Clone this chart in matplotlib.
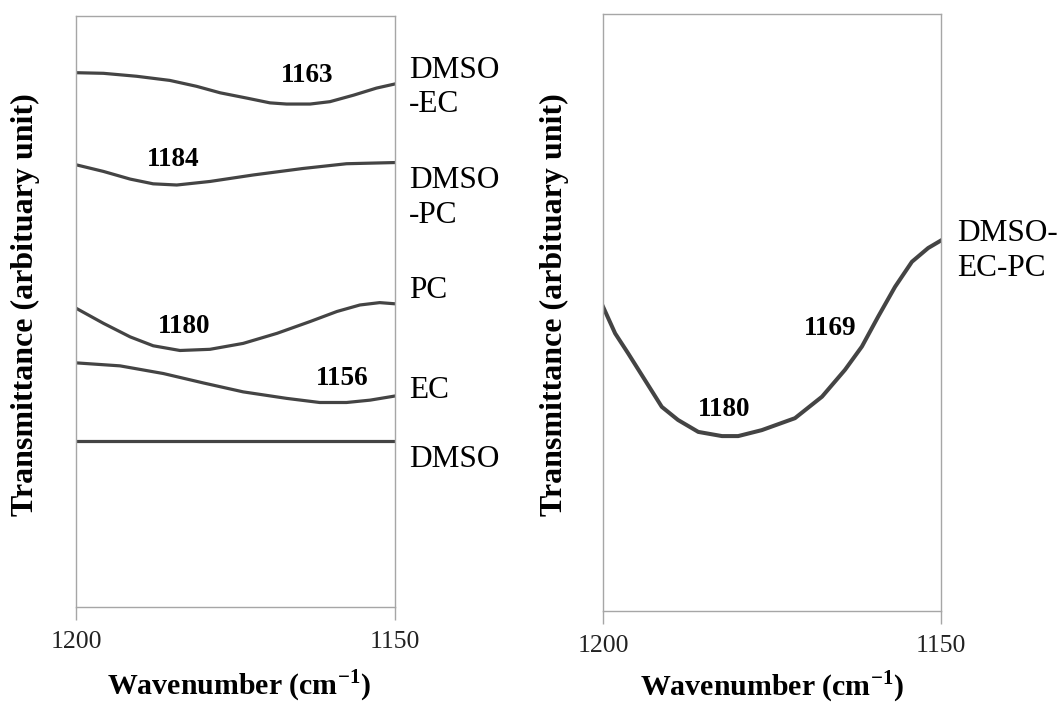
import matplotlib
matplotlib.use("Agg")
import matplotlib.pyplot as plt

plt.rcParams['font.family'] = ['Liberation Serif', 'DejaVu Serif']
plt.rcParams['mathtext.fontset'] = 'custom'
plt.rcParams['mathtext.rm'] = 'Liberation Serif'
plt.rcParams['mathtext.bf'] = 'Liberation Serif:bold'

# left panel curves (wavenumber, arbitrary transmittance)
dmso_ec_x = [1199.9, 1195.7, 1190.5, 1185.3, 1181.1, 1177.4, 1173.2, 1169.6, 1167.0,
             1163.3, 1160.2, 1156.5, 1152.9, 1150]
dmso_ec_y = [90.4, 90.3, 89.8, 89.1, 88.1, 87.0, 86.1, 85.3, 85.1,
             85.1, 85.5, 86.6, 87.8, 88.5]

dmso_pc_x = [1199.9, 1195.7, 1191.5, 1187.9, 1184.2, 1179.0, 1172.2, 1164.4, 1157.6, 1150]
dmso_pc_y = [74.8, 73.7, 72.4, 71.6, 71.4, 72.0, 73.1, 74.2, 75.0, 75.2]

pc_x = [1199.9, 1195.7, 1191.5, 1187.9, 1183.7, 1179.0, 1173.8, 1168.5, 1163.3,
        1159.1, 1155.5, 1152.4, 1150]
pc_y = [50.5, 48.0, 45.7, 44.2, 43.4, 43.6, 44.6, 46.3, 48.3,
        50.0, 51.1, 51.5, 51.3]

ec_x = [1199.9, 1193.1, 1186.3, 1180.0, 1173.8, 1167.0, 1161.8, 1157.6, 1153.9, 1150]
ec_y = [41.3, 40.8, 39.5, 37.9, 36.4, 35.3, 34.6, 34.6, 35.0, 35.7]

dmso_x = [1200, 1150]
dmso_y = [28.1, 28.1]

# right panel curve
mix_x = [1200.0, 1198.2, 1196.3, 1193.8, 1191.3, 1188.9, 1185.9, 1182.4, 1180.0, 1176.5,
         1171.6, 1167.6, 1164.2, 1161.7, 1159.3, 1156.8, 1154.3, 1151.9, 1150.1]
mix_y = [51.0, 46.5, 43.2, 38.7, 34.2, 32.0, 30.0, 29.3, 29.3, 30.3,
         32.3, 35.9, 40.4, 44.3, 49.3, 54.3, 58.5, 60.8, 62.0]

left_names = ["DMSO\n-EC", "DMSO\n-PC", "PC", "EC", "DMSO"]
left_name_y = [87.9, 69.2, 53.6, 36.7, 24.9]
left_peaks = ["1163", "1184", "1180", "1156"]
left_peak_x = [1163.8, 1184.8, 1183.1, 1158.3]
left_peak_y = [90.0, 75.8, 47.5, 38.6]

right_peaks = ["1169", "1180"]
right_peak_x = [1166.4, 1182.1]
right_peak_y = [47.4, 33.8]

xticks = [1200, 1150]

line_col = '#444444'
spine_col = '#a6a6a6'

fig = plt.figure(figsize=(10.61, 7.04), dpi=100)
ax1 = fig.add_axes([0.0716, 0.1378, 0.3007, 0.8395])
ax2 = fig.add_axes([0.5683, 0.1321, 0.3186, 0.848])

ax1.plot(dmso_ec_x, dmso_ec_y, color=line_col, lw=2.3)
ax1.plot(dmso_pc_x, dmso_pc_y, color=line_col, lw=2.3)
ax1.plot(pc_x, pc_y, color=line_col, lw=2.3)
ax1.plot(ec_x, ec_y, color=line_col, lw=2.3)
ax1.plot(dmso_x, dmso_y, color=line_col, lw=2.3)

for name, y in zip(left_names, left_name_y):
    ax1.text(1147.8, y, name, fontsize=22.5, ha='left', va='center',
             linespacing=1.25, clip_on=False)
for lab, x, y in zip(left_peaks, left_peak_x, left_peak_y):
    ax1.text(x, y, lab, fontsize=19.5, fontweight='bold', ha='center', va='center')

ax2.plot(mix_x, mix_y, color=line_col, lw=2.9)
ax2.text(1147.6, 60.3, "DMSO-\nEC-PC", fontsize=22.5, ha='left', va='center',
         linespacing=1.25, clip_on=False)
for lab, x, y in zip(right_peaks, right_peak_x, right_peak_y):
    ax2.text(x, y, lab, fontsize=19.5, fontweight='bold', ha='center', va='center')

for ax in (ax1, ax2):
    ax.set_xlim(1200, 1150)
    ax.set_ylim(0, 100)
    ax.set_xticks(xticks)
    ax.set_xticklabels([str(t) for t in xticks])
    ax.set_yticks([])
    for s in ax.spines.values():
        s.set_color(spine_col)
        s.set_linewidth(1.0)
    ax.tick_params(axis='x', direction='out', length=9, width=1.0,
                   color=spine_col, labelsize=18.5, labelcolor='#222222', pad=8)
    ax.set_xlabel(r'Wavenumber (cm$^{\mathbf{-1}}$)', fontsize=21.5,
                  fontweight='bold', va='center')

ax1.xaxis.set_label_coords(0.51, -0.134)
ax2.xaxis.set_label_coords(0.5, -0.127)

fig.text(0.0236, 0.568, 'Transmittance (arbituary unit)', rotation=90,
         fontsize=23, fontweight='bold', ha='center', va='center')
fig.text(0.523, 0.568, 'Transmittance (arbituary unit)', rotation=90,
         fontsize=23, fontweight='bold', ha='center', va='center')

fig.savefig('out.png', dpi=100)
